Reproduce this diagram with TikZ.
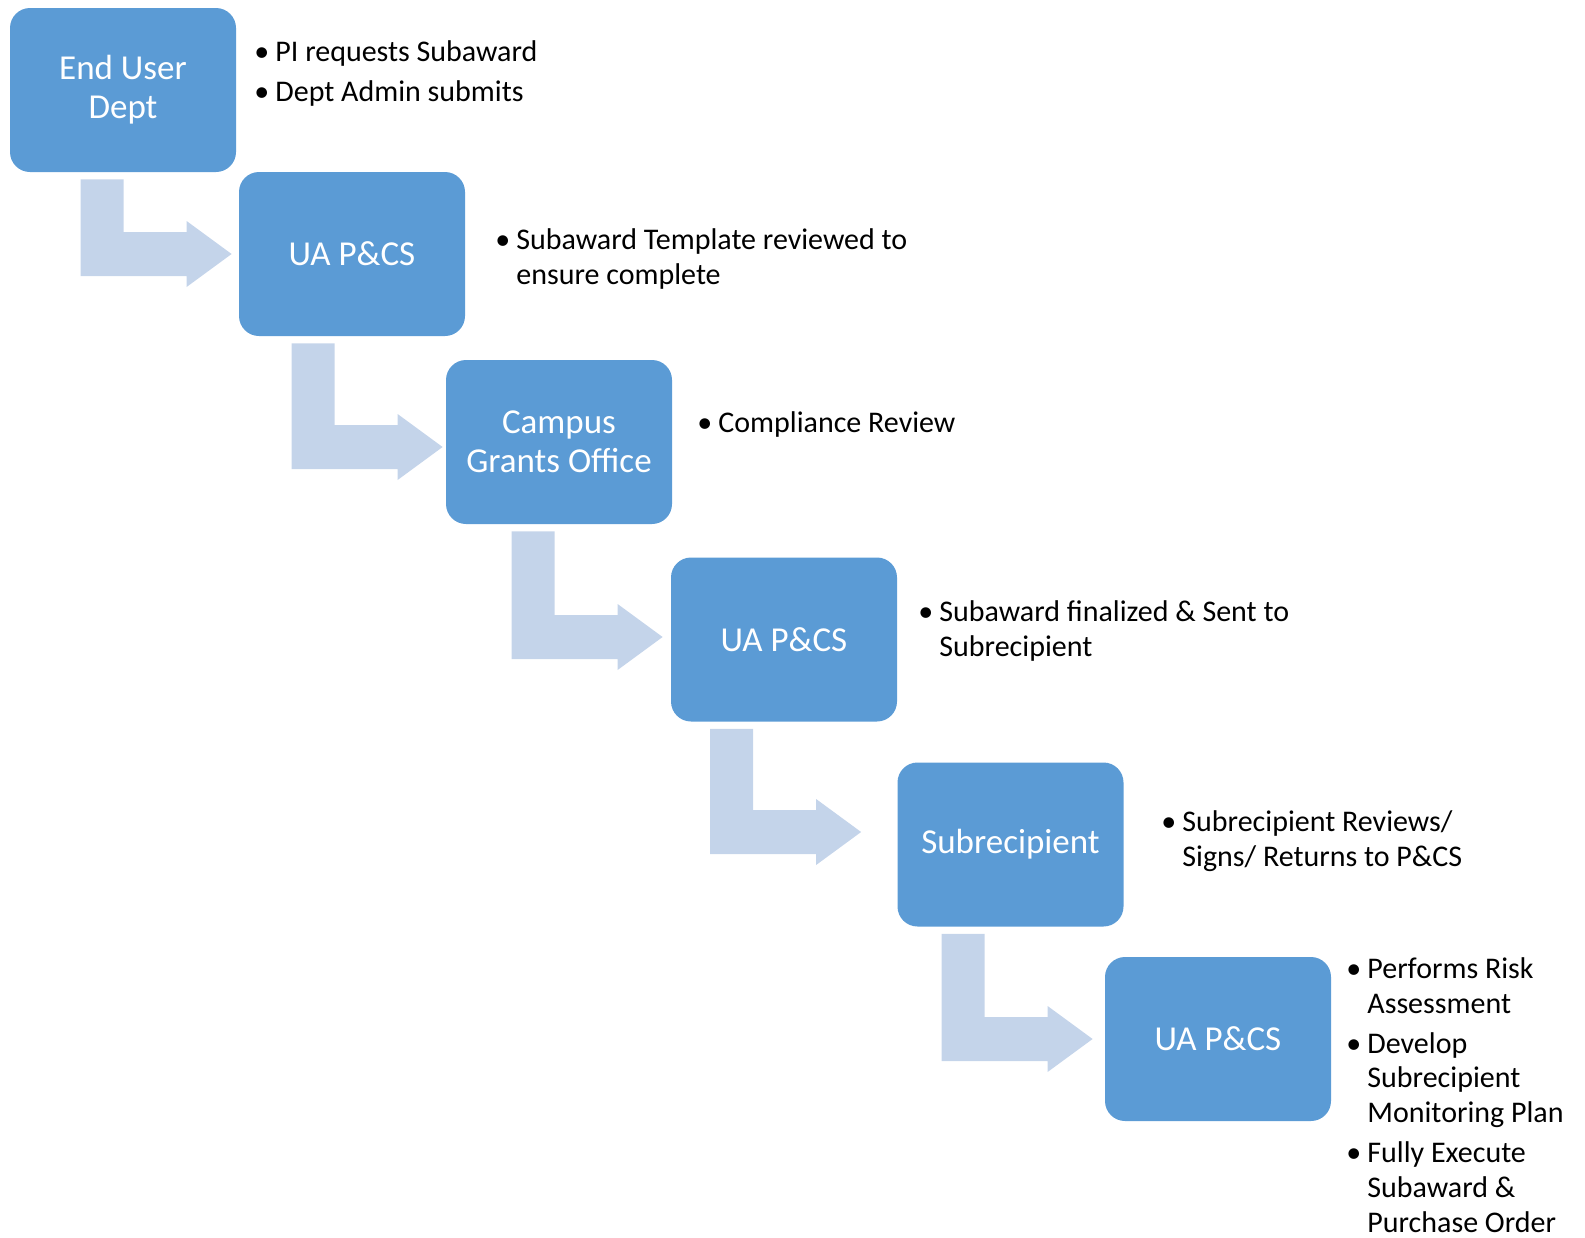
\documentclass[tikz,border=0pt]{standalone}
\usepackage{fontspec}
\setmainfont{Carlito}
\usetikzlibrary{calc}
\definecolor{stepblue}{RGB}{91,155,213}
\definecolor{bendblue}{RGB}{196,212,234}
\newcommand{\bul}{\makebox[10.5pt][l]{\textbullet}}
\newcommand{\ind}{\hspace*{10.5pt}}
% bent arrow from the bottom of one box to the left side of the next,
% tip shifted by (#3,#4) from the west side of the second box
\newcommand{\bendarrow}[4]{%
  \fill[bendblue] let \p1=($(#2.west)+(#3,#4)$), \p2=(#1.south) in
    (\x1-75.5pt,\y2-3.5pt) -- (\x1-54pt,\y2-3.5pt) -- (\x1-54pt,\y1+11pt)
    -- (\x1-22.5pt,\y1+11pt) -- (\x1-22.5pt,\y1+16.5pt) -- (\x1,\y1)
    -- (\x1-22.5pt,\y1-16.5pt) -- (\x1-22.5pt,\y1-11pt) -- (\x1-75.5pt,\y1-11pt) -- cycle;}
\begin{document}
\begin{tikzpicture}[x=0.5pt, y=-0.5pt,
    stepbox/.style={fill=stepblue, text=white, rounded corners=10pt, minimum width=113pt,
      minimum height=82pt, align=center, inner sep=0pt, font=\fontsize{17.5}{19.5}\selectfont},
    notes/.style={anchor=north west, align=left, inner sep=0pt, font=\fontsize{15}{17.4}\selectfont}]
    \useasboundingbox (0,0) rectangle (1585,1237);

    \node[stepbox] (enduser) at (123,90) {End User\\Dept};
    \node[stepbox] (pcsa) at (352,254) {UA P\&CS};
    \node[stepbox] (grants) at (559,442) {Campus\\Grants Office};
    \node[stepbox] (pcsb) at (784,639.5) {UA P\&CS};
    \node[stepbox] (subrec) at (1010.5,844.5) {Subrecipient};
    \node[stepbox] (pcsc) at (1218,1039) {UA P\&CS};

    \bendarrow{enduser}{pcsa}{-7}{0}
    \bendarrow{pcsa}{grants}{-3}{5}
    \bendarrow{grants}{pcsb}{-8}{-2.5}
    \bendarrow{pcsb}{subrec}{-36}{-12.5}
    \bendarrow{subrec}{pcsc}{-12}{0}

    \node[notes] (noteenduser) at (254,40) {\bul PI requests Subaward\\[2.6pt]\bul Dept Admin submits};
    \node[notes] (notepcsa) at (495,228) {\bul Subaward Template reviewed to\\\ind ensure complete};
    \node[notes] (notegrants) at (697,411) {\bul Compliance Review};
    \node[notes] (notepcsb) at (918,600) {\bul Subaward finalized \& Sent to\\\ind Subrecipient};
    \node[notes] (notesubrec) at (1161,810) {\bul Subrecipient Reviews/\\\ind Signs/ Returns to P\&CS};
    \node[notes] (notepcsc) at (1346,957) {\bul Performs Risk\\\ind Assessment\\[2.6pt]
      \bul Develop\\\ind Subrecipient\\\ind Monitoring Plan\\[2.6pt]
      \bul Fully Execute\\\ind Subaward \&\\\ind Purchase Order};
\end{tikzpicture}
\end{document}
